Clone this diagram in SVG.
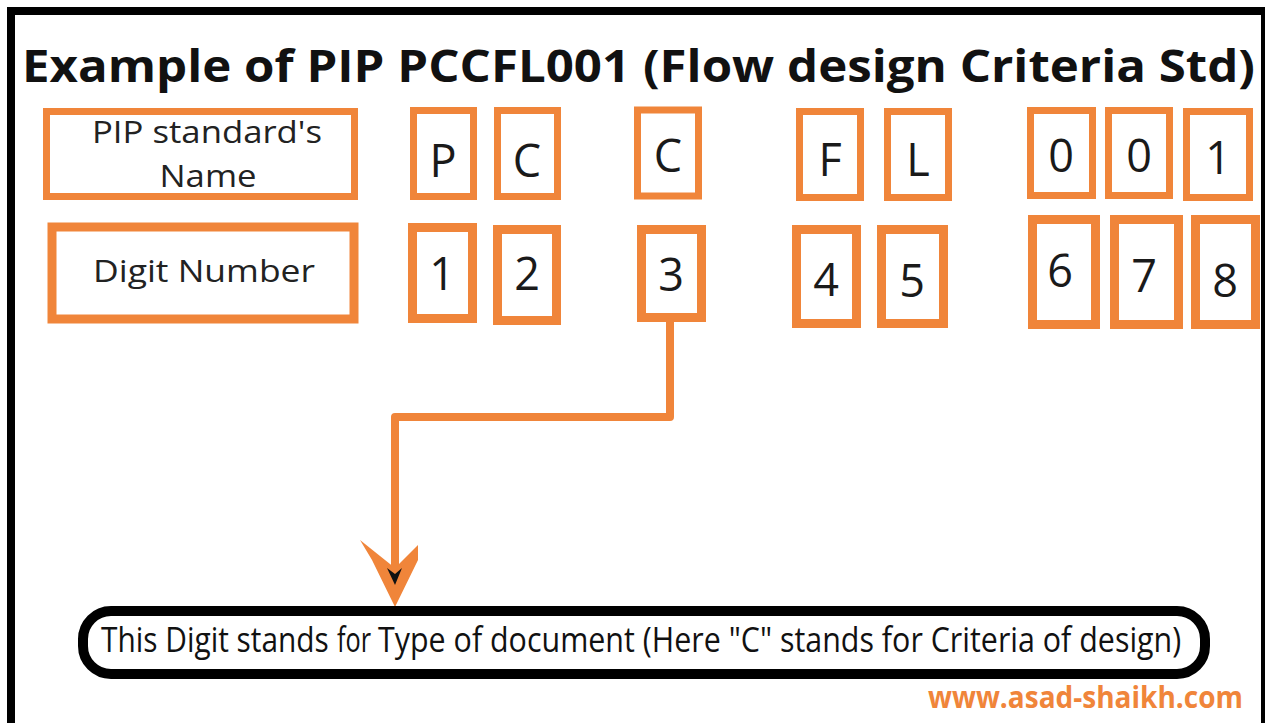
<svg xmlns="http://www.w3.org/2000/svg" width="1267" height="723" viewBox="0 0 1267 723">
  <style>
    .box { fill: #ffffff; stroke: #f0853a; stroke-width: 7; }
    .box2 { fill: #ffffff; stroke: #f0853a; stroke-width: 9; }
    .lbl { font-family: "Open Sans", "Noto Sans", sans-serif; font-size: 31px; fill: #222222; text-anchor: middle; }
    .chr { font-family: "Open Sans", "Noto Sans", sans-serif; font-size: 45px; fill: #1a1a1a; text-anchor: middle; }
    .title { font-family: "Open Sans", "Noto Sans", sans-serif; font-weight: 700; font-size: 44px; fill: #111111; }
    .note { font-family: "Open Sans", "Noto Sans", sans-serif; font-size: 34px; fill: #111111; }
    .web { font-family: "Open Sans", "Noto Sans", sans-serif; font-weight: 700; font-size: 30px; fill: #f0853a; }
    .wire { fill: none; stroke: #f0853a; stroke-width: 8; stroke-linejoin: round; stroke-linecap: round; }
  </style>

  <!-- page and frame -->
  <rect x="0" y="0" width="1267" height="723" fill="#ffffff"/>
  <path d="M11 723 V11 H1263" fill="none" stroke="#000000" stroke-width="8"/>
  <path d="M1263 7 V723" fill="none" stroke="#000000" stroke-width="4"/>

  <text class="title" x="22" y="82" textLength="1233" lengthAdjust="spacingAndGlyphs">Example of PIP PCCFL001 (Flow design Criteria Std)</text>

  <!-- row labels -->
  <g id="name-label">
    <rect class="box" x="46.5" y="111.5" width="308" height="85"/>
    <text class="lbl" x="207" y="143" textLength="230" lengthAdjust="spacingAndGlyphs">PIP standard's</text>
    <text class="lbl" x="208" y="187" textLength="97" lengthAdjust="spacingAndGlyphs">Name</text>
  </g>
  <g id="digit-label">
    <rect class="box2" x="52" y="227" width="302" height="92"/>
    <text class="lbl" x="204" y="282" textLength="222" lengthAdjust="spacingAndGlyphs">Digit Number</text>
  </g>

  <!-- letters of the code -->
  <g id="ch-P"><rect class="box" x="413.5" y="110.5" width="60" height="86"/><text class="chr" x="443" y="177">P</text></g>
  <g id="ch-C1"><rect class="box" x="497.5" y="110.5" width="60" height="86"/><text class="chr" x="527" y="177">C</text></g>
  <g id="ch-C2"><rect class="box" x="637.5" y="110" width="61" height="86"/><text class="chr" x="668" y="172">C</text></g>
  <g id="ch-F"><rect class="box" x="799.5" y="111.5" width="61" height="86"/><text class="chr" x="830" y="176">F</text></g>
  <g id="ch-L"><rect class="box" x="887.5" y="111.5" width="61" height="86"/><text class="chr" x="918" y="176">L</text></g>
  <g id="ch-0a"><rect class="box" x="1030.5" y="110.5" width="62" height="85"/><text class="chr" x="1061" y="172">0</text></g>
  <g id="ch-0b"><rect class="box" x="1108.5" y="110.5" width="61" height="85"/><text class="chr" x="1139" y="172">0</text></g>
  <g id="ch-1"><rect class="box" x="1186.5" y="111.5" width="63" height="86"/><text class="chr" x="1218" y="174">1</text></g>

  <!-- digit positions -->
  <g id="pos-1"><rect class="box2" x="412.5" y="227.5" width="60" height="91"/><text class="chr" x="442" y="290">1</text></g>
  <g id="pos-2"><rect class="box2" x="497.5" y="229.5" width="59" height="91"/><text class="chr" x="527" y="290">2</text></g>
  <g id="pos-3"><rect class="box2" x="641.5" y="229.5" width="60" height="88"/><text class="chr" x="671" y="291">3</text></g>
  <g id="pos-4"><rect class="box2" x="796.5" y="229.5" width="60" height="94"/><text class="chr" x="826" y="296">4</text></g>
  <g id="pos-5"><rect class="box2" x="881.5" y="229.5" width="62" height="94"/><text class="chr" x="912" y="297">5</text></g>
  <g id="pos-6"><rect class="box2" x="1032.5" y="219.5" width="63" height="105"/><text class="chr" x="1060" y="287">6</text></g>
  <g id="pos-7"><rect class="box2" x="1114.5" y="219.5" width="64" height="105"/><text class="chr" x="1144" y="292">7</text></g>
  <g id="pos-8"><rect class="box2" x="1195.5" y="219.5" width="60" height="105"/><text class="chr" x="1225" y="297">8</text></g>

  <!-- connector from position 3 to the note -->
  <g id="connectors">
    <path class="wire" d="M670 322 V417 H395 V565"/>
    <polygon points="360,540 395,568 418,545 418,560 395,607 372,560" fill="#f0853a"/>
    <polygon points="387,568 395,574 402,568 395,585" fill="#111111"/>
  </g>

  <!-- note: narrow lettering, drawn horizontally compressed -->
  <g id="note">
    <rect x="83" y="611" width="1122" height="63" rx="28" ry="28" fill="#ffffff" stroke="#000000" stroke-width="10"/>
    <text class="note" transform="matrix(0.85 0 0 1 101 652)" x="0" y="0" textLength="268" lengthAdjust="spacingAndGlyphs">This Digit stands</text>
    <text class="note" transform="matrix(0.85 0 0 1 337 652)" x="0" y="0" font-size="28" textLength="40" lengthAdjust="spacingAndGlyphs">for</text>
    <text class="note" transform="matrix(0.85 0 0 1 378 652)" x="0" y="0" textLength="945" lengthAdjust="spacingAndGlyphs">Type of document (Here "C" stands for Criteria of design)</text>
  </g>

  <text class="web" x="928" y="708" textLength="315" lengthAdjust="spacingAndGlyphs">www.asad-shaikh.com</text>
</svg>
